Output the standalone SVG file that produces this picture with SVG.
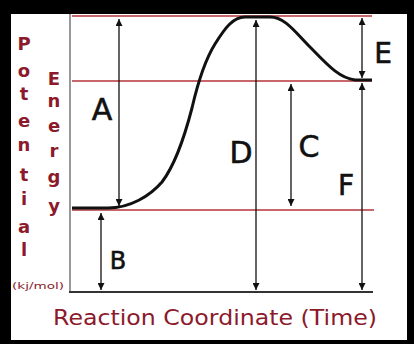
<svg xmlns="http://www.w3.org/2000/svg" width="414" height="344" viewBox="0 0 414 344">
<style>
.lbl{font-family:"DejaVu Sans","Liberation Sans",sans-serif;fill:#111;text-anchor:middle;stroke:#111;stroke-width:0.6}
.ax{font-family:"DejaVu Sans","Liberation Sans",sans-serif;fill:#8b1a2b;text-anchor:middle}
.ref{stroke:#b5333a;stroke-width:1.5;fill:none}
.arr{stroke:#111;stroke-width:1.3;fill:none;marker-start:url(#ah);marker-end:url(#ah)}
</style>
<defs>
<marker id="ah" viewBox="0 0 10 10" refX="10" refY="5" markerWidth="10" markerHeight="7" markerUnits="userSpaceOnUse" orient="auto-start-reverse">
<path d="M0,0 L10,5 L0,10 Z" fill="#111"/>
</marker>
</defs>
<rect x="0" y="0" width="414" height="344" fill="#000"/>
<rect x="11" y="14" width="396" height="326" fill="#fff"/>
<g id="axes">
<line x1="70" y1="14" x2="70" y2="293" stroke="#999" stroke-width="2"/>
<line x1="69" y1="292" x2="373" y2="292" stroke="#333" stroke-width="2"/>
</g>
<g id="reference-lines">
<line class="ref" x1="72" y1="16" x2="372" y2="16"/>
<line class="ref" x1="72" y1="81" x2="372" y2="81"/>
<line class="ref" x1="72" y1="210" x2="374" y2="210"/>
</g>
<g id="curve">
<path d="M72,208 L108,208 C130,208 150,196 162,182 C175,165 185,135 192,108 C198,82 205,60 215,44 C225,28 233,17 245,17 L270,17 C285,17 295,32 310,47 C325,62 338,78 355,80 L372,80" fill="none" stroke="#111" stroke-width="3"/>
</g>
<g id="connectors">
<line class="arr" x1="119" y1="19" x2="119" y2="206"/>
<line class="arr" x1="101" y1="213" x2="101" y2="290"/>
<line class="arr" x1="256" y1="20" x2="256" y2="290"/>
<line class="arr" x1="291" y1="84" x2="291" y2="206"/>
<line class="arr" x1="362" y1="18" x2="362" y2="78"/>
<line class="arr" x1="362" y1="83" x2="362" y2="290"/>
</g>
<g id="label-A"><text class="lbl" x="102" y="120" font-size="30">A</text></g>
<g id="label-B"><text class="lbl" x="118" y="269" font-size="24">B</text></g>
<g id="label-C"><text class="lbl" x="309" y="157" font-size="30">C</text></g>
<g id="label-D"><text class="lbl" x="241" y="163" font-size="30">D</text></g>
<g id="label-E"><text class="lbl" x="383" y="63" font-size="28">E</text></g>
<g id="label-F"><text class="lbl" x="346" y="195" font-size="28">F</text></g>
<g id="y-axis-title" class="ax" font-size="18" font-weight="bold">
<text x="24" y="50">P</text>
<text x="24" y="77">o</text>
<text x="24" y="100">t</text>
<text x="24" y="127">e</text>
<text x="24" y="151">n</text>
<text x="24" y="181">t</text>
<text x="24" y="205">i</text>
<text x="24" y="233">a</text>
<text x="24" y="256">l</text>
<text x="54" y="85">E</text>
<text x="54" y="107">n</text>
<text x="54" y="132">e</text>
<text x="54" y="157">r</text>
<text x="54" y="183">g</text>
<text x="54" y="212">y</text>
<text x="38" y="289" font-size="9" font-weight="normal" textLength="52" lengthAdjust="spacingAndGlyphs">(kj/mol)</text>
</g>
<g id="x-axis-title">
<text class="ax" x="215" y="325" font-size="22" textLength="324" lengthAdjust="spacingAndGlyphs">Reaction Coordinate (Time)</text>
</g>
</svg>
